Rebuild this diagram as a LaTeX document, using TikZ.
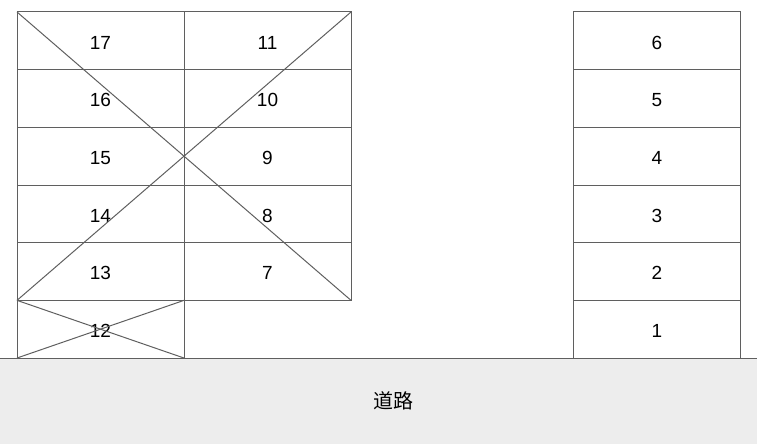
\documentclass[tikz,border=0pt]{standalone}
\usepackage{fontspec}
\setmainfont{Liberation Sans}
\newfontfamily\cjk{Noto Sans CJK SC}
\usetikzlibrary{positioning}

\definecolor{linegray}{HTML}{5F5F5F}
\definecolor{roadgray}{HTML}{EDEDED}

\tikzset{
	slot/.style={draw=linegray, line width=1pt, rectangle, minimum width=167pt, minimum height=57.67pt, outer sep=0pt, inner sep=0pt, font=\fontsize{19}{22}\selectfont, text height=16.5pt, text depth=0pt},
	cross/.style={draw=linegray, line width=1pt}
}

\begin{document}
\begin{tikzpicture}[x=1pt, y=-1pt]
	\useasboundingbox (0,0) rectangle (757,444);
	
	% road
	\fill[roadgray] (0,358) rectangle (757,444);
	\coordinate (roadW) at (0,358);
	\coordinate (roadE) at (757,358);
	\draw[cross] (roadW) -- (roadE);
	\node[font=\cjk\fontsize{20}{24}\selectfont] (road) at (393.5,400.5) {道路};
	
	% left block
	\node[slot, anchor=north west] (n17) at (17,12) {17};
	\node[slot, below=0pt of n17] (n16) {16};
	\node[slot, below=0pt of n16] (n15) {15};
	\node[slot, below=0pt of n15] (n14) {14};
	\node[slot, below=0pt of n14] (n13) {13};
	\node[slot, below=0pt of n13] (n12) {12};
	
	\node[slot, right=0pt of n17] (n11) {11};
	\node[slot, below=0pt of n11] (n10) {10};
	\node[slot, below=0pt of n10] (n9) {9};
	\node[slot, below=0pt of n9] (n8) {8};
	\node[slot, below=0pt of n8] (n7) {7};
	
	\draw[cross] (n17.north west) -- (n7.south east);
	\draw[cross] (n11.north east) -- (n13.south west);
	\draw[cross] (n12.north west) -- (n12.south east);
	\draw[cross] (n12.north east) -- (n12.south west);
	
	% right column
	\node[slot, anchor=north west] (n6) at (573.5,12) {6};
	\node[slot, below=0pt of n6] (n5) {5};
	\node[slot, below=0pt of n5] (n4) {4};
	\node[slot, below=0pt of n4] (n3) {3};
	\node[slot, below=0pt of n3] (n2) {2};
	\node[slot, below=0pt of n2] (n1) {1};
\end{tikzpicture}
\end{document}
